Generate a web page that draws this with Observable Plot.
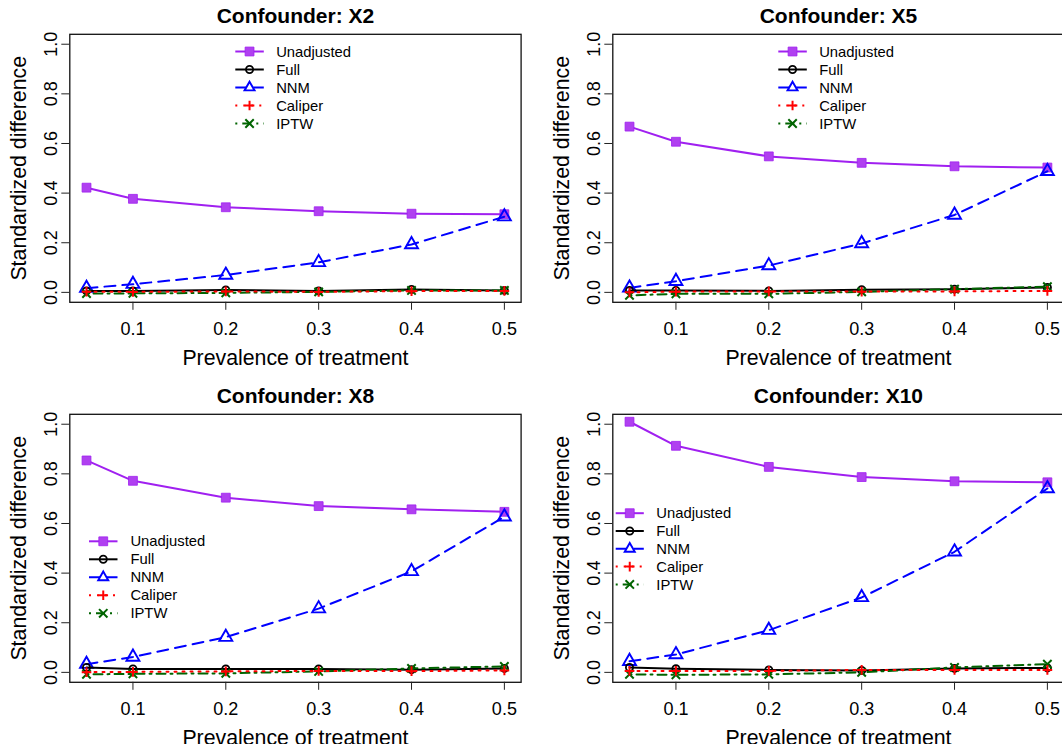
<!DOCTYPE html>
<html><head><meta charset="utf-8">
<script src="https://cdn.jsdelivr.net/npm/d3@7"></script>
<script src="https://cdn.jsdelivr.net/npm/@observablehq/plot@0.6"></script>
<style>
html,body{margin:0;padding:0;background:#fff;overflow:hidden;}
#chart{position:relative;width:1062px;height:744px;overflow:hidden;background:#fff;font-family:"Liberation Sans",Arial,Helvetica,sans-serif;}
.panel{position:absolute;width:543px;height:380px;}
.panel svg{max-width:none !important;width:543px;height:380px;display:block;}
</style></head><body><div id="chart"></div>
<script>
// ---- data ----
const prevalence = [0.05, 0.1, 0.2, 0.3, 0.4, 0.5];
const xTicks = [0.1, 0.2, 0.3, 0.4, 0.5];
const yTicks = [0.0, 0.2, 0.4, 0.6, 0.8, 1.0];
const methods = ["Unadjusted", "Full", "NNM", "Caliper", "IPTW"];
const panelTitles = ["Confounder: X2", "Confounder: X5", "Confounder: X8", "Confounder: X10"];
const xLabel = "Prevalence of treatment";
const yLabel = "Standardized difference";

const x2_unadjusted = [0.422, 0.377, 0.343, 0.327, 0.317, 0.315];
const x2_full       = [0.006, 0.006, 0.010, 0.006, 0.012, 0.008];
const x2_nnm        = [0.017, 0.033, 0.070, 0.121, 0.193, 0.305];
const x2_caliper    = [0.003, 0.002, 0.004, 0.002, 0.005, 0.006];
const x2_iptw       = [-0.005, -0.004, -0.002, 0.002, 0.008, 0.008];

const x5_unadjusted = [0.668, 0.607, 0.548, 0.522, 0.508, 0.503];
const x5_full       = [0.008, 0.008, 0.006, 0.011, 0.013, 0.020];
const x5_nnm        = [0.018, 0.045, 0.108, 0.197, 0.312, 0.488];
const x5_caliper    = [0.000, 0.003, 0.004, 0.003, 0.004, 0.006];
const x5_iptw       = [-0.012, -0.006, -0.006, 0.002, 0.013, 0.023];

const x8_unadjusted = [0.854, 0.772, 0.704, 0.670, 0.657, 0.647];
const x8_full       = [0.020, 0.014, 0.014, 0.014, 0.011, 0.016];
const x8_nnm        = [0.033, 0.062, 0.142, 0.257, 0.407, 0.627];
const x8_caliper    = [0.001, 0.002, 0.004, 0.006, 0.005, 0.008];
const x8_iptw       = [-0.008, -0.006, -0.004, 0.004, 0.016, 0.024];

const x10_unadjusted = [1.010, 0.913, 0.828, 0.787, 0.770, 0.766];
const x10_full       = [0.020, 0.015, 0.010, 0.008, 0.016, 0.018];
const x10_nnm        = [0.045, 0.072, 0.170, 0.302, 0.486, 0.741];
const x10_caliper    = [0.006, 0.006, 0.006, 0.010, 0.010, 0.010];
const x10_iptw       = [-0.008, -0.010, -0.008, 0.000, 0.020, 0.033];

const panelSeries = [
  [x2_unadjusted, x2_full, x2_nnm, x2_caliper, x2_iptw],
  [x5_unadjusted, x5_full, x5_nnm, x5_caliper, x5_iptw],
  [x8_unadjusted, x8_full, x8_nnm, x8_caliper, x8_iptw],
  [x10_unadjusted, x10_full, x10_nnm, x10_caliper, x10_iptw]
];

// ---- styles ----
const styles = {
  Unadjusted: {color: "#A020F0", dash: null,      symbol: "square",   r: 5.0, fill: "#B040F0", sw: 0.8, d3s: d3.symbolSquare},
  Full:       {color: "#000000", dash: null,      symbol: "circle",   r: 3.6, fill: "none",    sw: 1.8, d3s: d3.symbolCircle},
  NNM:        {color: "#0000FF", dash: "11,7",    symbol: "triangle", r: 4.8, fill: "none",    sw: 1.9, d3s: d3.symbolTriangle2},
  Caliper:    {color: "#FF0000", dash: "2,6",     symbol: "plus",     r: 3.2, fill: "none",    sw: 2.0, d3s: d3.symbolPlus},
  IPTW:       {color: "#006400", dash: "2,5,9,5", symbol: "times",    r: 3.9, fill: "none",    sw: 2.0, d3s: d3.symbolTimes}
};
const drawOrder = ["Unadjusted", "NNM", "Full", "IPTW", "Caliper"];

// ---- layout ----
const W = 543, H = 380;
const M = {left: 69.3, right: W - 520.6, top: 33.8, bottom: H - 301.8};
const panelPos = [[0, 0], [543, 0], [0, 380], [543, 380]];
const legendPos = [
  {l0: 235.3, l1: 263.8, tx: 276.2, y0: 51.5, dy: 18.0},
  {l0: 235.3, l1: 263.8, tx: 276.2, y0: 51.5, dy: 18.0},
  {l0: 89.0,  l1: 117.5, tx: 130.4, y0: 161.3, dy: 18.0},
  {l0: 72.7,  l1: 100.8, tx: 113.3, y0: 133.2, dy: 17.8}
];

const chart = document.getElementById("chart");
const fmt = d => d.toFixed(1);

panelTitles.forEach((title, p) => {
  const rows = [];
  methods.forEach((m, k) => {
    panelSeries[p][k].forEach((v, i) => rows.push({method: m, prev: prevalence[i], value: v}));
  });
  const marks = [Plot.frame({stroke: "#111", strokeWidth: 1.3})];
  drawOrder.forEach(m => {
    const s = styles[m];
    const d = rows.filter(r => r.method === m);
    marks.push(Plot.line(d, {x: "prev", y: "value", stroke: s.color, strokeWidth: 2, strokeDasharray: s.dash ?? undefined}));
    marks.push(Plot.dot(d, {x: "prev", y: "value", symbol: () => s.symbol, r: s.r,
      fill: s.fill, stroke: s.color, strokeWidth: s.sw}));
  });
  marks.push(
    Plot.axisX({ticks: xTicks, tickSize: 8, tickPadding: 11.5, tickFormat: fmt, fontSize: 18, label: null, stroke: "#222"}),
    Plot.axisY({ticks: yTicks, tickSize: 8, tickPadding: 4.5, tickRotate: -90, tickFormat: fmt, fontSize: 18, label: null, stroke: "#222"}),
    Plot.text([title], {text: d => d, frameAnchor: "top", dy: 16 - M.top, lineAnchor: "middle", textAnchor: "middle", fontSize: 21, fontWeight: "bold"}),
    Plot.text([xLabel], {text: d => d, frameAnchor: "bottom", dy: 55.5, lineAnchor: "middle", textAnchor: "middle", fontSize: 21.3}),
    Plot.text([yLabel], {text: d => d, frameAnchor: "left", dx: 18.6 - M.left, rotate: -90, lineAnchor: "middle", textAnchor: "middle", fontSize: 21.3})
  );
  const svg = Plot.plot({
    width: W, height: H,
    marginLeft: M.left, marginRight: M.right, marginTop: M.top, marginBottom: M.bottom,
    x: {domain: [0.032, 0.518]},
    y: {domain: [-0.04, 1.04]},
    style: {fontFamily: "'Liberation Sans', Arial, Helvetica, sans-serif", fontSize: "18px", background: "transparent", color: "#000", overflow: "visible", maxWidth: "none"},
    marks
  });
  // legend (no box)
  const lp = legendPos[p];
  const g = d3.select(svg).append("g").attr("font-size", 14.8).attr("fill", "#000").attr("text-anchor", "start");
  methods.forEach((m, i) => {
    const s = styles[m];
    const y = lp.y0 + i * lp.dy;
    g.append("line").attr("x1", lp.l0).attr("x2", lp.l1).attr("y1", y).attr("y2", y)
      .attr("stroke", s.color).attr("stroke-width", 2).attr("stroke-dasharray", s.dash);
    g.append("path").attr("transform", `translate(${(lp.l0 + lp.l1) / 2},${y})`)
      .attr("d", d3.symbol(s.d3s, Math.PI * s.r * s.r)())
      .attr("fill", s.fill).attr("stroke", s.color).attr("stroke-width", s.sw);
    g.append("text").attr("x", lp.tx).attr("y", y).attr("dy", "0.35em").attr("text-anchor", "start").text(m);
  });
  const div = document.createElement("div");
  div.className = "panel";
  div.style.left = panelPos[p][0] + "px";
  div.style.top = panelPos[p][1] + "px";
  div.appendChild(svg);
  chart.appendChild(div);
});
</script></body></html>
